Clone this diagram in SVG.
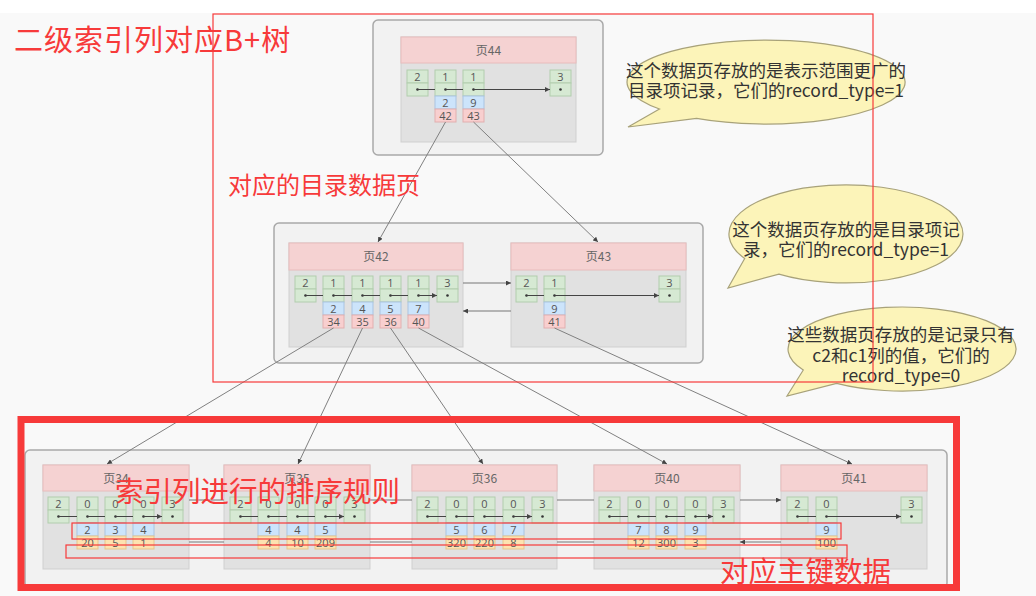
<svg xmlns="http://www.w3.org/2000/svg" xmlns:xlink="http://www.w3.org/1999/xlink" width="1036" height="596" viewBox="0 0 1036 596">
<style>
.bg{fill:#f9f9f9}
.box{fill:#f2f2f2;stroke:#a9a9a9;stroke-width:1.5}
.body{fill:#e1e1e1;stroke:#cfcfcf}
.hdr{fill:#f5d2d2;stroke:#e8bcbc}
.ht{font-family:"Noto Sans CJK SC","Noto Sans",sans-serif;font-size:12px;fill:#666;text-anchor:middle}
.g{fill:#d6e9d3;stroke:#b2cdae}
.b{fill:#cce4fb;stroke:#a9c4e2}
.p{fill:#f8cfcf;stroke:#e2afaf}
.o{fill:#fde2b0;stroke:#e7c58b}
.t{font-family:"Open Sans","Noto Sans",sans-serif;font-size:11px;fill:#555;text-anchor:middle}
.d{fill:#333}
.ia{stroke:#444;stroke-width:1;fill:none;marker-end:url(#ah)}
.pl{stroke:#808080;stroke-width:1;fill:none;marker-end:url(#ah)}
.lk{stroke:#777;stroke-width:1;fill:none;marker-end:url(#ah)}
.bub{fill:#fcf4b9;stroke:#a8a27a;stroke-width:1.2}
.bt{font-family:"Noto Sans CJK SC","Noto Sans",sans-serif;font-size:17.5px;fill:#333;text-anchor:middle}
.rt{font-family:"Noto Sans CJK SC","Noto Sans",sans-serif;fill:#f73a3a}
.rr{fill:none;stroke:#f73a3a;stroke-width:1.2}
</style>
<defs>
<marker id="ah" viewBox="0 0 6 6" refX="6" refY="3" markerWidth="5" markerHeight="5" orient="auto" markerUnits="userSpaceOnUse"><path d="M0,0 L6,3 L0,6 z" fill="#444"/></marker>
<g id="gc"><rect class="g" width="21" height="13"/><rect class="g" y="13" width="21" height="13"/><circle class="d" cx="10.5" cy="19.5" r="1.3"/></g>
</defs>
<rect x="0" y="0" width="1036" height="596" class="bg"/>
<rect x="0" y="0" width="1036" height="13" fill="#ffffff"/>

<!-- containers -->
<rect class="box" x="373" y="20" width="230" height="135" rx="5"/>
<rect class="box" x="274" y="223" width="429" height="140" rx="5"/>
<rect class="box" x="25" y="450" width="922" height="138" rx="5"/>

<!-- 页44 -->
<g id="page44">
<rect class="body" x="401" y="37" width="175" height="105"/>
<rect class="hdr" x="401" y="37" width="175" height="26"/>
<text class="ht" x="488.5" y="54.5">页44</text>
<g transform="translate(407,70)"><use href="#gc"/><text class="t" x="10.5" y="10.5">2</text></g>
<g transform="translate(435,70)"><use href="#gc"/><text class="t" x="10.5" y="10.5">1</text><rect class="b" y="26" width="21" height="13"/><text class="t" x="10.5" y="36.5">2</text><rect class="p" y="39" width="21" height="13"/><text class="t" x="10.5" y="49.5">42</text></g>
<g transform="translate(463,70)"><use href="#gc"/><text class="t" x="10.5" y="10.5">1</text><rect class="b" y="26" width="21" height="13"/><text class="t" x="10.5" y="36.5">9</text><rect class="p" y="39" width="21" height="13"/><text class="t" x="10.5" y="49.5">43</text></g>
<g transform="translate(550,70)"><use href="#gc"/><text class="t" x="10.5" y="10.5">3</text></g>
<path class="ia" d="M417.5 89.5H435M445.5 89.5H463M473.5 89.5H550"/>
</g>

<!-- 页42 -->
<g id="page42">
<rect class="body" x="289" y="243" width="174" height="104"/>
<rect class="hdr" x="289" y="243" width="174" height="27"/>
<text class="ht" x="376" y="261">页42</text>
<g transform="translate(295,276)"><use href="#gc"/><text class="t" x="10.5" y="10.5">2</text></g>
<g transform="translate(323,276)"><use href="#gc"/><text class="t" x="10.5" y="10.5">1</text><rect class="b" y="26" width="21" height="13"/><text class="t" x="10.5" y="36.5">2</text><rect class="p" y="39" width="21" height="13"/><text class="t" x="10.5" y="49.5">34</text></g>
<g transform="translate(352,276)"><use href="#gc"/><text class="t" x="10.5" y="10.5">1</text><rect class="b" y="26" width="21" height="13"/><text class="t" x="10.5" y="36.5">4</text><rect class="p" y="39" width="21" height="13"/><text class="t" x="10.5" y="49.5">35</text></g>
<g transform="translate(380,276)"><use href="#gc"/><text class="t" x="10.5" y="10.5">1</text><rect class="b" y="26" width="21" height="13"/><text class="t" x="10.5" y="36.5">5</text><rect class="p" y="39" width="21" height="13"/><text class="t" x="10.5" y="49.5">36</text></g>
<g transform="translate(408,276)"><use href="#gc"/><text class="t" x="10.5" y="10.5">1</text><rect class="b" y="26" width="21" height="13"/><text class="t" x="10.5" y="36.5">7</text><rect class="p" y="39" width="21" height="13"/><text class="t" x="10.5" y="49.5">40</text></g>
<g transform="translate(437,276)"><use href="#gc"/><text class="t" x="10.5" y="10.5">3</text></g>
<path class="ia" d="M305.5 295.5H323M333.5 295.5H352M362.5 295.5H380M390.5 295.5H408M418.5 295.5H437"/>
</g>

<!-- 页43 -->
<g id="page43">
<rect class="body" x="511" y="243" width="175" height="104"/>
<rect class="hdr" x="511" y="243" width="175" height="27"/>
<text class="ht" x="598.5" y="261">页43</text>
<g transform="translate(516,276)"><use href="#gc"/><text class="t" x="10.5" y="10.5">2</text></g>
<g transform="translate(544,276)"><use href="#gc"/><text class="t" x="10.5" y="10.5">1</text><rect class="b" y="26" width="21" height="13"/><text class="t" x="10.5" y="36.5">9</text><rect class="p" y="39" width="21" height="13"/><text class="t" x="10.5" y="49.5">41</text></g>
<g transform="translate(659,276)"><use href="#gc"/><text class="t" x="10.5" y="10.5">3</text></g>
<path class="ia" d="M526.5 295.5H544M554.5 295.5H659"/>
</g>

<!-- 页34 -->
<g id="page34">
<rect class="body" x="43" y="465" width="146" height="104"/>
<rect class="hdr" x="43" y="465" width="146" height="26"/>
<text class="ht" x="116" y="482.5">页34</text>
<g transform="translate(48,497)"><use href="#gc"/><text class="t" x="10.5" y="10.5">2</text></g>
<g transform="translate(77,497)"><use href="#gc"/><text class="t" x="10.5" y="10.5">0</text><rect class="b" y="26" width="21" height="13"/><text class="t" x="10.5" y="36.5">2</text><rect class="o" y="39" width="21" height="13"/><text class="t" x="10.5" y="49.5">20</text></g>
<g transform="translate(105,497)"><use href="#gc"/><text class="t" x="10.5" y="10.5">0</text><rect class="b" y="26" width="21" height="13"/><text class="t" x="10.5" y="36.5">3</text><rect class="o" y="39" width="21" height="13"/><text class="t" x="10.5" y="49.5">5</text></g>
<g transform="translate(133,497)"><use href="#gc"/><text class="t" x="10.5" y="10.5">0</text><rect class="b" y="26" width="21" height="13"/><text class="t" x="10.5" y="36.5">4</text><rect class="o" y="39" width="21" height="13"/><text class="t" x="10.5" y="49.5">1</text></g>
<g transform="translate(162,497)"><use href="#gc"/><text class="t" x="10.5" y="10.5">3</text></g>
<path class="ia" d="M58.5 516.5H77M87.5 516.5H105M115.5 516.5H133M143.5 516.5H162"/>
</g>

<!-- 页35 -->
<g id="page35">
<rect class="body" x="224" y="465" width="146" height="104"/>
<rect class="hdr" x="224" y="465" width="146" height="26"/>
<text class="ht" x="297" y="482.5">页35</text>
<g transform="translate(230,497)"><use href="#gc"/><text class="t" x="10.5" y="10.5">2</text></g>
<g transform="translate(258,497)"><use href="#gc"/><text class="t" x="10.5" y="10.5">0</text><rect class="b" y="26" width="21" height="13"/><text class="t" x="10.5" y="36.5">4</text><rect class="o" y="39" width="21" height="13"/><text class="t" x="10.5" y="49.5">4</text></g>
<g transform="translate(287,497)"><use href="#gc"/><text class="t" x="10.5" y="10.5">0</text><rect class="b" y="26" width="21" height="13"/><text class="t" x="10.5" y="36.5">4</text><rect class="o" y="39" width="21" height="13"/><text class="t" x="10.5" y="49.5">10</text></g>
<g transform="translate(315,497)"><use href="#gc"/><text class="t" x="10.5" y="10.5">0</text><rect class="b" y="26" width="21" height="13"/><text class="t" x="10.5" y="36.5">5</text><rect class="o" y="39" width="21" height="13"/><text class="t" x="10.5" y="49.5">209</text></g>
<g transform="translate(344,497)"><use href="#gc"/><text class="t" x="10.5" y="10.5">3</text></g>
<path class="ia" d="M240.5 516.5H258M268.5 516.5H287M297.5 516.5H315M325.5 516.5H344"/>
</g>

<!-- 页36 -->
<g id="page36">
<rect class="body" x="412" y="465" width="145" height="104"/>
<rect class="hdr" x="412" y="465" width="145" height="26"/>
<text class="ht" x="484.5" y="482.5">页36</text>
<g transform="translate(417,497)"><use href="#gc"/><text class="t" x="10.5" y="10.5">2</text></g>
<g transform="translate(446,497)"><use href="#gc"/><text class="t" x="10.5" y="10.5">0</text><rect class="b" y="26" width="21" height="13"/><text class="t" x="10.5" y="36.5">5</text><rect class="o" y="39" width="21" height="13"/><text class="t" x="10.5" y="49.5">320</text></g>
<g transform="translate(474,497)"><use href="#gc"/><text class="t" x="10.5" y="10.5">0</text><rect class="b" y="26" width="21" height="13"/><text class="t" x="10.5" y="36.5">6</text><rect class="o" y="39" width="21" height="13"/><text class="t" x="10.5" y="49.5">220</text></g>
<g transform="translate(503,497)"><use href="#gc"/><text class="t" x="10.5" y="10.5">0</text><rect class="b" y="26" width="21" height="13"/><text class="t" x="10.5" y="36.5">7</text><rect class="o" y="39" width="21" height="13"/><text class="t" x="10.5" y="49.5">8</text></g>
<g transform="translate(532,497)"><use href="#gc"/><text class="t" x="10.5" y="10.5">3</text></g>
<path class="ia" d="M427.5 516.5H446M456.5 516.5H474M484.5 516.5H503M513.5 516.5H532"/>
</g>

<!-- 页40 -->
<g id="page40">
<rect class="body" x="594" y="465" width="146" height="104"/>
<rect class="hdr" x="594" y="465" width="146" height="26"/>
<text class="ht" x="667" y="482.5">页40</text>
<g transform="translate(599,497)"><use href="#gc"/><text class="t" x="10.5" y="10.5">2</text></g>
<g transform="translate(628,497)"><use href="#gc"/><text class="t" x="10.5" y="10.5">0</text><rect class="b" y="26" width="21" height="13"/><text class="t" x="10.5" y="36.5">7</text><rect class="o" y="39" width="21" height="13"/><text class="t" x="10.5" y="49.5">12</text></g>
<g transform="translate(656,497)"><use href="#gc"/><text class="t" x="10.5" y="10.5">0</text><rect class="b" y="26" width="21" height="13"/><text class="t" x="10.5" y="36.5">8</text><rect class="o" y="39" width="21" height="13"/><text class="t" x="10.5" y="49.5">300</text></g>
<g transform="translate(685,497)"><use href="#gc"/><text class="t" x="10.5" y="10.5">0</text><rect class="b" y="26" width="21" height="13"/><text class="t" x="10.5" y="36.5">9</text><rect class="o" y="39" width="21" height="13"/><text class="t" x="10.5" y="49.5">3</text></g>
<g transform="translate(713,497)"><use href="#gc"/><text class="t" x="10.5" y="10.5">3</text></g>
<path class="ia" d="M609.5 516.5H628M638.5 516.5H656M666.5 516.5H685M695.5 516.5H713"/>
</g>

<!-- 页41 -->
<g id="page41">
<rect class="body" x="781" y="465" width="146" height="104"/>
<rect class="hdr" x="781" y="465" width="146" height="26"/>
<text class="ht" x="854" y="482.5">页41</text>
<g transform="translate(787,497)"><use href="#gc"/><text class="t" x="10.5" y="10.5">2</text></g>
<g transform="translate(816,497)"><use href="#gc"/><text class="t" x="10.5" y="10.5">0</text><rect class="b" y="26" width="21" height="13"/><text class="t" x="10.5" y="36.5">9</text><rect class="o" y="39" width="21" height="13"/><text class="t" x="10.5" y="49.5">100</text></g>
<g transform="translate(901,497)"><use href="#gc"/><text class="t" x="10.5" y="10.5">3</text></g>
<path class="ia" d="M797.5 516.5H816M826.5 516.5H901"/>
</g>

<!-- connectors -->
<g id="connectors">
<path class="pl" d="M445.5 122L378 242"/>
<path class="pl" d="M473.5 122L598 242"/>
<path class="pl" d="M333.5 328L107 464"/>
<path class="pl" d="M362.5 328L298 464"/>
<path class="pl" d="M390.5 328L483 464"/>
<path class="pl" d="M418.5 328L667 464"/>
<path class="pl" d="M554.5 328L852 464"/>
<path class="lk" d="M463 283H511"/>
<path class="lk" d="M511 311H463"/>
<path class="lk" d="M189 500H224M370 500H412M557 500H594M740 500H781"/>
<path class="lk" d="M224 542H189M412 542H370M594 542H557M781 542H740"/>
</g>

<!-- callouts -->
<g id="callout1">
<path class="bub" d="M659.5 109L628 127L696.5 118.4A139 42 0 1 0 659.5 109Z"/>
<text class="bt" x="766" y="77">这个数据页存放的是表示范围更广的</text>
<text class="bt" x="766" y="97">目录项记录，它们的record_type=1</text>
</g>
<g id="callout2">
<path class="bub" d="M744.7 258.5L728 288L778.9 274.1A117 49 0 1 0 744.7 258.5Z"/>
<text class="bt" x="846" y="236">这个数据页存放的是目录项记</text>
<text class="bt" x="846" y="256">录，它们的record_type=1</text>
</g>
<g id="callout3">
<path class="bub" d="M803.3 370L787 396L836.6 383.4A114 42 0 1 0 803.3 370Z"/>
<text class="bt" x="901" y="341">这些数据页存放的是记录只有</text>
<text class="bt" x="901" y="362">c2和c1列的值，它们的</text>
<text class="bt" x="901" y="382">record_type=0</text>
</g>

<!-- red annotations -->
<g id="annotations">
<rect class="rr" x="213" y="14" width="660" height="368"/>
<rect fill="none" stroke="#f73a3a" stroke-width="7" x="21" y="419.5" width="935.5" height="168"/>
<rect class="rr" x="72" y="523" width="769" height="16"/>
<rect class="rr" x="66" y="545" width="781" height="13"/>
<text class="rt" x="14" y="51" font-size="29" letter-spacing="1">二级索引列对应B+树</text>
<text class="rt" x="228" y="194" font-size="24">对应的目录数据页</text>
<text class="rt" x="115" y="502" font-size="28.5">索引列进行的排序规则</text>
<text class="rt" x="720" y="582" font-size="28.5">对应主键数据</text>
</g>
</svg>
